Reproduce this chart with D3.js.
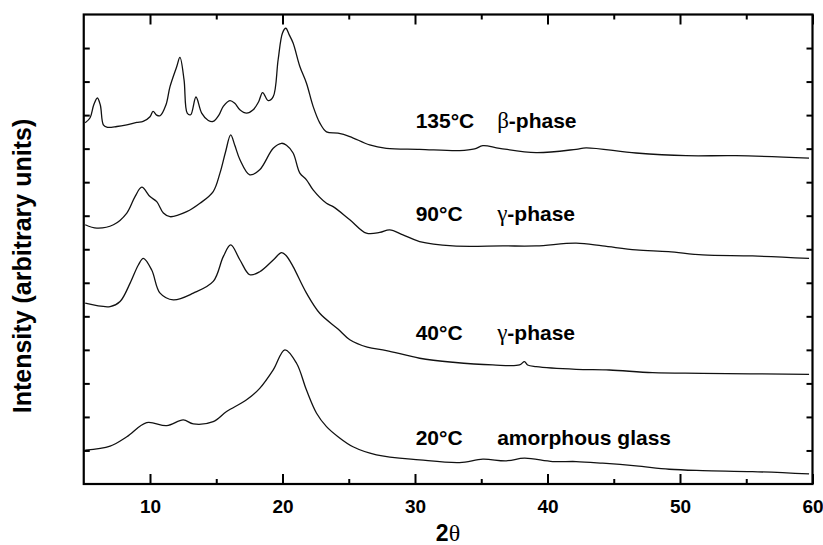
<!DOCTYPE html>
<html><head><meta charset="utf-8">
<script src="https://cdn.jsdelivr.net/npm/d3@7"></script>
<style>body{margin:0;background:#fff}svg{display:block}</style>
</head><body>
<svg id="chart" width="823" height="545"></svg>
<script>
// 2θ values and intensities (arbitrary units, stacked offsets)
const s135 = [[5.11,10.77],[5.48,10.92],[5.75,11.3],[6.03,11.51],[6.25,11.3],[6.48,10.71],[6.74,10.64],[7.5,10.66],[8.25,10.71],[9.0,10.78],[9.48,10.81],[10.0,10.95],[10.23,11.11],[10.5,11.0],[10.76,10.98],[11.2,11.3],[11.51,11.85],[12.02,12.45],[12.26,12.72],[12.57,12.05],[12.81,11.06],[13.07,11.01],[13.47,11.54],[13.90,11.06],[14.40,10.84],[14.77,10.81],[15.2,11.0],[15.53,11.26],[16.03,11.43],[16.4,11.35],[16.78,11.16],[17.29,11.06],[17.79,11.16],[18.2,11.4],[18.50,11.67],[18.92,11.43],[19.30,11.55],[19.67,12.65],[20.00,13.45],[20.25,13.59],[20.5,13.4],[20.80,13.15],[21.31,12.45],[21.81,11.95],[22.31,11.26],[22.81,10.77],[23.32,10.50],[24.19,10.46],[25.08,10.36],[26.58,10.11],[27.84,10.01],[30.35,9.98],[33.37,9.94],[34.5,9.99],[35.12,10.09],[36.38,10.01],[39.14,9.88],[42.16,9.98],[42.91,10.02],[46.68,9.87],[50.45,9.79],[54.22,9.79],[59.74,9.72]];
const s90 = [[5.11,7.73],[5.99,7.63],[7.24,7.73],[8.25,8.08],[8.87,8.57],[9.38,8.85],[10.0,8.57],[10.51,8.42],[11.01,8.08],[11.51,7.97],[12.77,8.12],[13.77,8.37],[14.77,8.72],[15.28,9.27],[15.7,9.9],[16.09,10.41],[16.4,10.1],[16.79,9.67],[17.53,9.22],[18.28,9.37],[19.30,10.01],[19.93,10.16],[20.3,10.1],[20.80,9.87],[21.31,9.27],[21.81,9.07],[22.31,8.77],[23.32,8.37],[23.82,8.27],[25.08,7.88],[26.33,7.48],[27.34,7.50],[28.09,7.58],[29.09,7.43],[30.35,7.23],[32.86,7.10],[36.63,7.10],[39.14,7.10],[42.16,7.18],[44.16,7.10],[46.68,6.98],[49.12,6.93],[51.70,6.83],[55.47,6.80],[59.74,6.73]];
const s40 = [[5.11,5.39],[6.99,5.29],[7.74,5.44],[8.50,5.99],[9.12,6.53],[9.50,6.73],[10.13,6.38],[10.76,5.69],[11.76,5.49],[13.27,5.69],[14.77,6.04],[15.53,6.78],[16.09,7.13],[16.79,6.68],[17.53,6.24],[18.28,6.33],[19.30,6.68],[19.93,6.90],[20.3,6.8],[20.80,6.48],[21.81,5.69],[22.81,5.09],[24.19,4.62],[25.08,4.30],[26.4,4.08],[27.84,3.98],[30.35,3.75],[32.86,3.63],[35.87,3.55],[37.89,3.55],[38.26,3.65],[38.5,3.55],[39.14,3.50],[42.16,3.42],[44.67,3.40],[47.93,3.32],[51.70,3.30],[59.74,3.27]];
const s20 = [[5.11,1.01],[6.99,1.13],[8.25,1.41],[9.75,1.83],[11.26,1.74],[12.51,1.91],[13.27,1.79],[14.77,1.86],[15.78,2.16],[17.29,2.51],[18.28,2.85],[19.30,3.40],[20.18,4.00],[21.06,3.60],[21.81,2.80],[22.57,2.11],[23.32,1.71],[24.19,1.41],[25.32,1.11],[27.09,0.87],[30.35,0.72],[33.37,0.64],[35.12,0.74],[36.88,0.69],[38.26,0.77],[40.40,0.67],[42.16,0.67],[44.16,0.62],[46.68,0.54],[49.19,0.44],[51.70,0.40],[55.47,0.37],[59.74,0.30]];
const seriesList = [s135, s90, s40, s20];
const temps = ["135°C", "90°C", "40°C", "20°C"];
const phaseGreek = ["β", "γ", "γ", ""];
const phaseRest = ["-phase", "-phase", "-phase", "amorphous glass"];
const labelLevels = [10.62, 7.83, 4.30, 1.16];
const xMajorTicks = [10, 20, 30, 40, 50, 60];
const xMinorTicks = [15, 25, 35, 45, 55];
const yTicks = d3.range(1, 14);

const svg = d3.select("#chart");
const x = d3.scaleLinear().domain([5, 60]).range([83.75, 812.5]);
const y = d3.scaleLinear().domain([0, 14]).range([484, 14.5]);
const FONT = "'Liberation Sans', Arial, Helvetica, sans-serif";

// curves
const line = d3.line().curve(d3.curveCatmullRom.alpha(0.5)).x(d => x(d[0])).y(d => y(d[1]));
svg.append("g").selectAll("path").data(seriesList).join("path")
  .attr("d", line).attr("fill", "none").attr("stroke", "#111").attr("stroke-width", 1.3)
  .attr("stroke-linejoin", "round");

// axes (ticks inward)
const gBottom = svg.append("g").attr("transform", `translate(0,${y(0)})`)
  .call(d3.axisBottom(x).tickValues(xMajorTicks).tickSizeInner(-10).tickSizeOuter(0).tickPadding(16).tickFormat(d3.format("d")));
const gBottomMinor = svg.append("g").attr("transform", `translate(0,${y(0)})`)
  .call(d3.axisBottom(x).tickValues(xMinorTicks).tickSizeInner(-5).tickSizeOuter(0).tickFormat(""));
const gTop = svg.append("g").attr("transform", `translate(0,${y(14)})`)
  .call(d3.axisTop(x).tickValues(xMajorTicks).tickSizeInner(-10).tickSizeOuter(0).tickFormat(""));
const gTopMinor = svg.append("g").attr("transform", `translate(0,${y(14)})`)
  .call(d3.axisTop(x).tickValues(xMinorTicks).tickSizeInner(-5).tickSizeOuter(0).tickFormat(""));
const gLeft = svg.append("g").attr("transform", `translate(${x(5)},0)`)
  .call(d3.axisLeft(y).tickValues(yTicks).tickSizeInner(-6).tickSizeOuter(0).tickFormat(""));
const gRight = svg.append("g").attr("transform", `translate(${x(60)},0)`)
  .call(d3.axisRight(y).tickValues(yTicks).tickSizeInner(-6).tickSizeOuter(0).tickFormat(""));
[gBottom, gBottomMinor, gTop, gTopMinor, gLeft, gRight].forEach(g => {
  g.select(".domain").remove();
  g.selectAll("line").attr("stroke", "#000").attr("stroke-width", 2);
});
gBottom.selectAll("text").attr("font-family", FONT).attr("font-weight", "bold")
  .attr("font-size", 19).attr("fill", "#000");

// frame
svg.append("rect").attr("x", x(5)).attr("y", y(14)).attr("width", x(60) - x(5)).attr("height", y(0) - y(14))
  .attr("fill", "none").attr("stroke", "#000").attr("stroke-width", 2.2);

// axis titles
const xt = svg.append("text").attr("x", 448).attr("y", 541).attr("text-anchor", "middle")
  .style("font-size", "23px").attr("fill", "#000");
xt.append("tspan").style("font-family", FONT).style("font-weight", "bold").text("2");
xt.append("tspan").style("font-family", "'Liberation Serif', 'DejaVu Serif', serif").style("font-size", "24px").text("θ");
svg.append("text").attr("transform", "translate(31,266) rotate(-90)").attr("text-anchor", "middle")
  .attr("font-family", FONT).attr("font-weight", "bold").attr("font-size", 25).attr("fill", "#000")
  .text("Intensity (arbitrary units)");

// curve labels
temps.forEach((t, i) => {
  svg.append("text").attr("x", x(30.05)).attr("y", y(labelLevels[i]))
    .attr("font-family", FONT).attr("font-weight", "bold").attr("font-size", 21).attr("fill", "#000").text(t);
  const p = svg.append("text").attr("x", x(36.2)).attr("y", y(labelLevels[i])).attr("font-size", 21).attr("fill", "#000");
  if (phaseGreek[i]) p.append("tspan").attr("font-family", "'Liberation Serif', 'DejaVu Serif', serif").attr("font-size", 23).text(phaseGreek[i]);
  p.append("tspan").attr("font-family", FONT).attr("font-weight", "bold").text(phaseRest[i]);
});
</script>
</body></html>
